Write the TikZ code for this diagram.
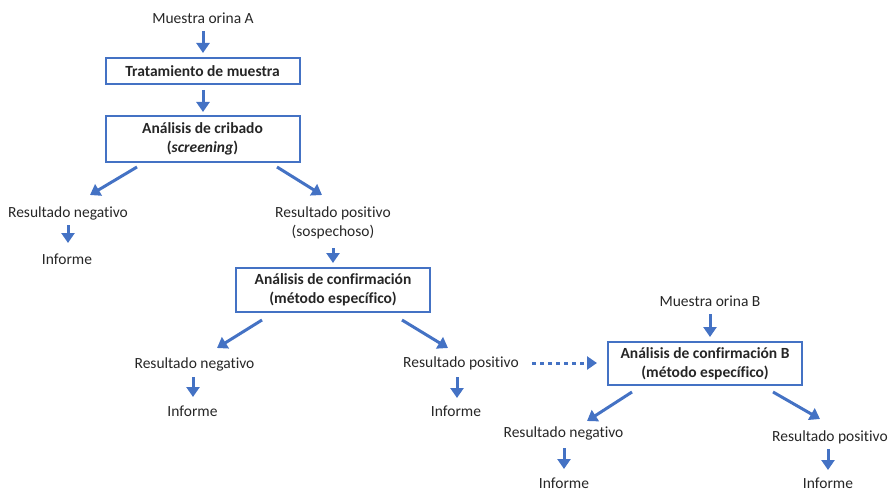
\documentclass[tikz,border=0pt]{standalone}
\usepackage{fontspec}
\setmainfont[Ligatures=CommonOff]{Carlito}
\usetikzlibrary{arrows.meta,calc}
\definecolor{myblue}{HTML}{4472C4}
\definecolor{txtgray}{HTML}{262626}
\begin{document}
\begin{tikzpicture}[x=1pt,y=-1pt,
  txt/.style={font=\fontsize{15.5}{19}\selectfont, text=txtgray, align=center, inner sep=0pt},
  box/.style={txt, draw=myblue, line width=2pt, font=\fontsize{15.5}{19}\selectfont\bfseries, minimum width=194pt},
  arr/.style={draw=myblue, line width=3pt, -{Triangle[length=10pt,width=13pt]}},
  dotarr/.style={draw=myblue, line width=3pt, dash pattern=on 4pt off 4pt, -{Triangle[length=10pt,width=13pt]}},
]
\useasboundingbox (0,0) rectangle (891,492);

% nodes
\node[txt] (mA) at (203,18.5) {Muestra orina A};
\node[box, minimum height=26pt] (b1) at (202.5,71) {Tratamiento de muestra};
\node[box, minimum height=46pt] (b2) at (202.5,139) {Análisis de cribado\\(\textit{screening})};
\node[txt] (neg1) at (68,213) {Resultado negativo};
\node[txt] (inf1) at (67,259) {Informe};
\node[txt] (pos1) at (333,222.5) {Resultado positivo\\(sospechoso)};
\node[box, minimum height=44pt] (b3) at (333,290) {Análisis de confirmación\\(método específico)};
\node[txt] (neg2) at (194.5,364) {Resultado negativo};
\node[txt] (inf2) at (192.5,411) {Informe};
\node[txt] (pos2) at (461,363) {Resultado positivo};
\node[txt] (inf3) at (456,411) {Informe};
\node[txt] (mB) at (710,301) {Muestra orina B};
\node[box, minimum height=43pt] (b4) at (705,363.5) {Análisis de confirmación B\\(método específico)};
\node[txt] (neg3) at (563.5,433) {Resultado negativo};
\node[txt] (inf4) at (564,483) {Informe};
\node[txt] (pos3) at (830,437) {Resultado positivo};
\node[txt] (inf5) at (828,483) {Informe};

% connectors
\draw[arr] ($(mA)+(0,12.5)$) -- ($(b1)+(0.5,-18)$);
\draw[arr] ($(b1)+(0.5,19)$) -- ($(b2)+(0.5,-27)$);
\draw[arr] ($(b2)+(-65.5,28)$) -- ($(neg1)+(22,-18)$);
\draw[arr] ($(b2)+(74.5,28)$) -- ($(pos1)+(-11,-27.5)$);
\draw[arr] ($(neg1)+(0,12)$) -- ($(inf1)+(1,-16)$);
\draw[arr] ($(pos1)+(0,25.5)$) -- ($(b3)+(0,-27)$);
\draw[arr] ($(b3)+(-71,30)$) -- ($(neg2)+(22.5,-16)$);
\draw[arr] ($(b3)+(69,30)$) -- ($(pos2)+(-13,-15)$);
\draw[arr] ($(neg2)+(-1.5,13)$) -- ($(inf2)+(0.5,-14)$);
\draw[arr] ($(pos2)+(-4,14)$) -- ($(inf3)+(1,-13)$);
\draw[dotarr] ($(pos2)+(71,0)$) -- ($(b4)+(-108,-0.5)$);
\draw[arr] ($(mB)+(0,13)$) -- ($(b4)+(5,-26.5)$);
\draw[arr] ($(b4)+(-73,28.5)$) -- ($(neg3)+(23.5,-12)$);
\draw[arr] ($(b4)+(68,28.5)$) -- ($(pos3)+(-10,-18)$);
\draw[arr] ($(neg3)+(0.5,15)$) -- ($(inf4)+(0,-14)$);
\draw[arr] ($(pos3)+(-2,12)$) -- ($(inf5)+(0,-13)$);
\end{tikzpicture}
\end{document}
